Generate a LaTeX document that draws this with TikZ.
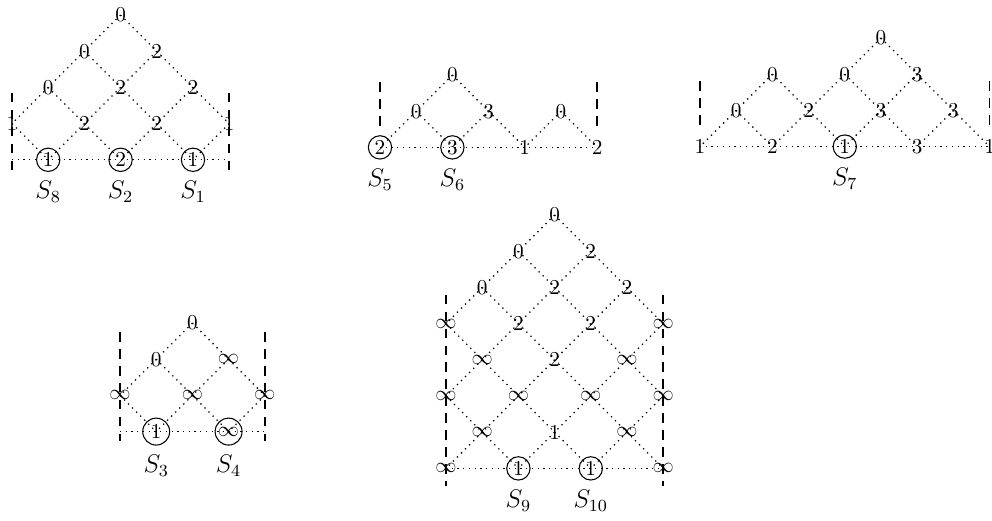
\documentclass[tikz,border=0pt]{standalone}
\begin{document}
\begin{tikzpicture}[x=0.4716pt,y=-0.4716pt,
  v/.style={inner sep=1pt},
  cv/.style={circle,draw,line width=0.5pt,minimum size=11pt,inner sep=0pt},
  cvb/.style={circle,draw,line width=0.5pt,minimum size=12.7pt,inner sep=0pt},
  edge/.style={line width=0.6pt,dash pattern=on 0.6pt off 2.1pt},
  wall/.style={line width=0.7pt,dash pattern=on 4.5pt off 3.5pt},
  lab/.style={font=\large,anchor=north}]
\useasboundingbox (0,0) rectangle (992,520);

% ---------- Diagram 1 (S8,S2,S1) ----------
\begin{scope}[shift={(12,15)},x=17.07pt,y=-17.07pt]
\node[v] (A0) at (3,0) {0};
\node[v] (A1) at (2,1) {0};
\node[v] (A2) at (4,1) {2};
\node[v] (A3) at (1,2) {0};
\node[v] (A4) at (3,2) {2};
\node[v] (A5) at (5,2) {2};
\node[v] (A6) at (0,3) {1};
\node[v] (A7) at (2,3) {2};
\node[v] (A8) at (4,3) {2};
\node[v] (A9) at (6,3) {1};
\node[cv] (A10) at (1,4) {1};
\node[cv] (A11) at (3,4) {2};
\node[cv] (A12) at (5,4) {1};
\coordinate (AL) at (0,4); \coordinate (AR) at (6,4);
\coordinate (ALt) at (0,2.15); \coordinate (ALb) at (0,4.45);
\coordinate (ARt) at (6,2.15); \coordinate (ARb) at (6,4.45);
\foreach \a/\b in {A0/A1,A0/A2,A1/A3,A1/A4,A2/A4,A2/A5,A3/A6,A3/A7,A4/A7,A4/A8,A5/A8,A5/A9,A6/A10,A7/A10,A7/A11,A8/A11,A8/A12,A9/A12}
  \draw[edge] (\a.center) -- (\b.center);
\draw[edge] (AL) -- (AR);
\draw[wall] (ALt) -- (ALb);
\draw[wall] (ARt) -- (ARb);
\node[lab] (S8) at ([yshift=-1pt]A10.south) {$S_8$};
\node[lab] (S2) at ([yshift=-1pt]A11.south) {$S_2$};
\node[lab] (S1) at ([yshift=-1pt]A12.south) {$S_1$};
\end{scope}

% ---------- Diagram 2 (S5,S6) ----------
\begin{scope}[shift={(380,75)},x=17.07pt,y=-17.07pt]
\node[v] (B0) at (2,0) {0};
\node[v] (B1) at (1,1) {0};
\node[v] (B2) at (3,1) {3};
\node[v] (B3) at (5,1) {0};
\node[cv] (B4) at (0,2) {2};
\node[cv] (B5) at (2,2) {3};
\node[v] (B6) at (4,2) {1};
\node[v] (B7) at (6,2) {2};
\coordinate (BLt) at (0,0.2); \coordinate (BLb) at (0,1.4);
\coordinate (BRt) at (6,0.2); \coordinate (BRb) at (6,1.4);
\foreach \a/\b in {B0/B1,B0/B2,B1/B4,B1/B5,B2/B5,B2/B6,B3/B6,B3/B7,B4/B7}
  \draw[edge] (\a.center) -- (\b.center);
\draw[wall] (BLt) -- (BLb);
\draw[wall] (BRt) -- (BRb);
\node[lab] (S5) at ([yshift=-1pt]B4.south) {$S_5$};
\node[lab] (S6) at ([yshift=-1pt]B5.south) {$S_6$};
\end{scope}

% ---------- Diagram 3 (S7) ----------
\begin{scope}[shift={(700,38)},x=17.07pt,y=-17.07pt]
\node[v] (C0) at (5,0) {0};
\node[v] (C1) at (2,1) {0};
\node[v] (C2) at (4,1) {0};
\node[v] (C3) at (6,1) {3};
\node[v] (C4) at (1,2) {0};
\node[v] (C5) at (3,2) {2};
\node[v] (C6) at (5,2) {3};
\node[v] (C7) at (7,2) {3};
\node[v] (C8) at (0,3) {1};
\node[v] (C9) at (2,3) {2};
\node[cv] (C10) at (4,3) {1};
\node[v] (C11) at (6,3) {3};
\node[v] (C12) at (8,3) {1};
\coordinate (CLt) at (0,1.2); \coordinate (CLb) at (0,2.5);
\coordinate (CRt) at (8,1.2); \coordinate (CRb) at (8,2.5);
\foreach \a/\b in {C0/C2,C0/C3,C1/C4,C1/C5,C2/C5,C2/C6,C3/C6,C3/C7,C4/C8,C4/C9,C5/C9,C5/C10,C6/C10,C6/C11,C7/C11,C7/C12,C8/C12}
  \draw[edge] (\a.center) -- (\b.center);
\draw[wall] (CLt) -- (CLb);
\draw[wall] (CRt) -- (CRb);
\node[lab] (S7) at ([yshift=-1pt]C10.south) {$S_7$};
\end{scope}

% ---------- Diagram 4 (S3,S4) ----------
\begin{scope}[shift={(120,323)},x=17.07pt,y=-17.07pt]
\node[v] (D0) at (2,0) {0};
\node[v] (D1) at (1,1) {0};
\node[v] (D2) at (3,1) {$\infty$};
\node[v] (D3) at (0,2) {$\infty$};
\node[v] (D4) at (2,2) {$\infty$};
\node[v] (D5) at (4,2) {$\infty$};
\node[cvb] (D6) at (1,3) {1};
\node[cvb] (D7) at (3,3) {$\infty$};
\coordinate (DL) at (0,3); \coordinate (DR) at (4,3);
\coordinate (DLt) at (0,0.25); \coordinate (DLb) at (0,3.25);
\coordinate (DRt) at (4,0.25); \coordinate (DRb) at (4,3.25);
\foreach \a/\b in {D0/D1,D0/D2,D1/D3,D1/D4,D2/D4,D2/D5,D3/D6,D4/D6,D4/D7,D5/D7}
  \draw[edge] (\a.center) -- (\b.center);
\draw[edge] (DL) -- (DR);
\draw[wall] (DLt) -- (DLb);
\draw[wall] (DRt) -- (DRb);
\node[lab] (S3) at ([yshift=-1pt]D6.south) {$S_3$};
\node[lab] (S4) at ([yshift=-1pt]D7.south) {$S_4$};
\end{scope}

% ---------- Diagram 5 (S9,S10) ----------
\begin{scope}[shift={(446,215)},x=17.07pt,y=-17.07pt]
\node[v] (E0) at (3,0) {0};
\node[v] (E1) at (2,1) {0};
\node[v] (E2) at (4,1) {2};
\node[v] (E3) at (1,2) {0};
\node[v] (E4) at (3,2) {2};
\node[v] (E5) at (5,2) {2};
\node[v] (E6) at (0,3) {$\infty$};
\node[v] (E7) at (2,3) {2};
\node[v] (E8) at (4,3) {2};
\node[v] (E9) at (6,3) {$\infty$};
\node[v] (E10) at (1,4) {$\infty$};
\node[v] (E11) at (3,4) {2};
\node[v] (E12) at (5,4) {$\infty$};
\node[v] (E13) at (0,5) {$\infty$};
\node[v] (E14) at (2,5) {$\infty$};
\node[v] (E15) at (4,5) {$\infty$};
\node[v] (E16) at (6,5) {$\infty$};
\node[v] (E17) at (1,6) {$\infty$};
\node[v] (E18) at (3,6) {1};
\node[v] (E19) at (5,6) {$\infty$};
\node[v] (E20) at (0,7) {$\infty$};
\node[cv] (E21) at (2,7) {1};
\node[cv] (E22) at (4,7) {1};
\node[v] (E23) at (6,7) {$\infty$};
\coordinate (ELt) at (0,2.2); \coordinate (ELb) at (0,7.5);
\coordinate (ERt) at (6,2.2); \coordinate (ERb) at (6,7.5);
\foreach \a/\b in {E0/E1,E0/E2,E1/E3,E1/E4,E2/E4,E2/E5,E3/E6,E3/E7,E4/E7,E4/E8,E5/E8,E5/E9,E6/E10,E7/E10,E7/E11,E8/E11,E8/E12,E9/E12,E10/E13,E10/E14,E11/E14,E11/E15,E12/E15,E12/E16,E13/E17,E14/E17,E14/E18,E15/E18,E15/E19,E16/E19,E17/E20,E17/E21,E18/E21,E18/E22,E19/E22,E19/E23,E20/E23}
  \draw[edge] (\a.center) -- (\b.center);
\draw[wall] (ELt) -- (ELb);
\draw[wall] (ERt) -- (ERb);
\node[lab] (S9) at ([yshift=-1pt]E21.south) {$S_9$};
\node[lab] (S10) at ([yshift=-1pt]E22.south) {$S_{10}$};
\end{scope}
\end{tikzpicture}
\end{document}
